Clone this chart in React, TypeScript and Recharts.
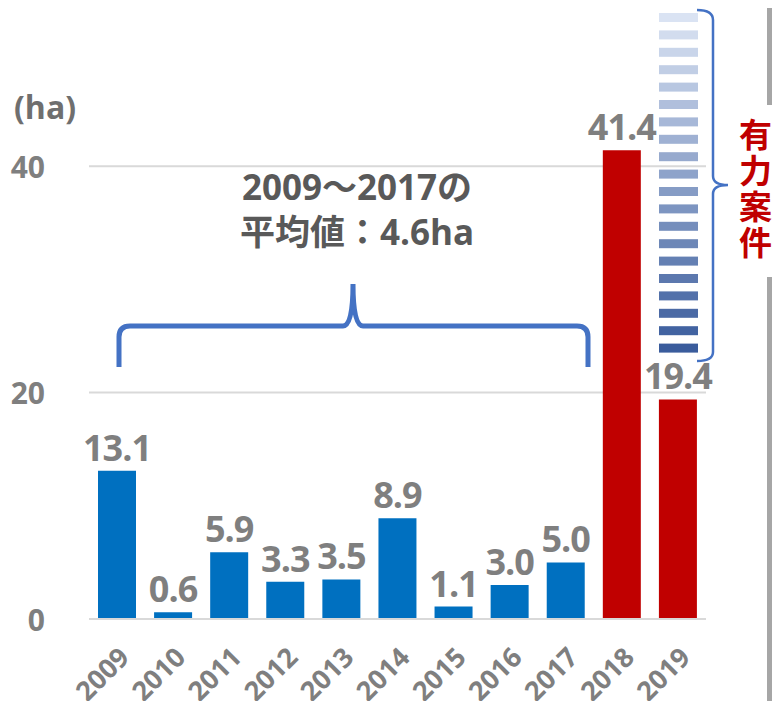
import { BarChart, Bar, XAxis, YAxis, CartesianGrid, Cell, LabelList } from 'recharts';

const years = ['2009', '2010', '2011', '2012', '2013', '2014', '2015', '2016', '2017', '2018', '2019'];
const areas = [13.1, 0.6, 5.9, 3.3, 3.5, 8.9, 1.1, 3.0, 5.0, 41.4, 19.4];
const yTicks = [0, 20, 40];
const highlightYears = ['2018', '2019'];

const avgLines = ['2009～2017の', '平均値：4.6ha'];
const sideLabel = '有力案件';

const data = years.map((year, i) => ({ year, area: areas[i] }));

const BLUE = '#0070C0';
const RED = '#C00000';
const GRAY = '#7f7f7f';
const FONT = '"Open Sans", "Noto Sans CJK JP", sans-serif';

const getBarColor = (year: string) => (highlightYears.includes(year) ? RED : BLUE);

const YTick = ({ y, payload }: any) => (
  <text x={45} y={y} textAnchor="end" dominantBaseline="central" fontSize={30} fontWeight={700} fill={GRAY} fontFamily={FONT}>
    {payload.value}
  </text>
);

const XTick = ({ x, y, payload }: any) => {
  const ax = x + 14;
  const ay = y + 32;
  return (
    <text x={ax} y={ay} textAnchor="end" fontSize={27} fontWeight={700} fill={GRAY} fontFamily={FONT} transform={`rotate(-45 ${ax} ${ay})`}>
      {payload.value}
    </text>
  );
};

const ValueLabel = ({ x, y, width, value }: any) => (
  <text x={x + width / 2} y={y - 10} textAnchor="middle" fontSize={36} fontWeight={700} fill={GRAY} fontFamily={FONT} letterSpacing={-1}>
    {Number(value).toFixed(1)}
  </text>
);

// stacked stripes fading from light to dark blue (the "promising projects" column)
const stripeColor = (i: number, n: number) => {
  const from = [0xda, 0xe3, 0xf3];
  const to = [0x3a, 0x5c, 0x9c];
  const t = i / (n - 1);
  const c = from.map((v, k) => Math.round(v + (to[k] - v) * t));
  return `rgb(${c[0]},${c[1]},${c[2]})`;
};

const Overlay = () => {
  const stripes = Array.from({ length: 20 }, (_, i) => i);
  return (
    <svg width={780} height={709} style={{ position: 'absolute', left: 0, top: 0, pointerEvents: 'none' }}>
      <text x={14} y={119} fontSize={32} fontWeight={700} fill="#6f6f6f" fontFamily={FONT}>(ha)</text>

      {/* average brace */}
      <path
        d="M119 367 L119 337 Q119 326 130 326 L343 326 Q353 326 353 284 Q353 326 363 326 L577 326 Q588 326 588 337 L588 367"
        fill="none"
        stroke="#4472C4"
        strokeWidth={5}
      />
      <text textAnchor="middle" fontSize={35} fontWeight={700} fill="#595959" fontFamily={FONT}>
        <tspan x={357} y={200}>{avgLines[0]}</tspan>
        <tspan x={357} y={245}>{avgLines[1]}</tspan>
      </text>

      {stripes.map((i) => (
        <rect key={i} x={659} y={13 + i * 17.4} width={39} height={9} fill={stripeColor(i, stripes.length)} />
      ))}
      <path
        d="M697 10 Q713 10 713 20 L713 176 Q713 185 728 185 Q713 185 713 194 L713 352 Q713 361 697 361"
        fill="none"
        stroke="#4472C4"
        strokeWidth={2.5}
      />

      <rect x={767} y={0} width={5} height={105} fill="#a6a6a6" />
      <rect x={767} y={277} width={5} height={432} fill="#a6a6a6" />
      <text
        x={754}
        y={118}
        fontSize={33}
        fontWeight={700}
        fill={RED}
        fontFamily={FONT}
        letterSpacing={3}
        style={{ writingMode: 'vertical-rl' }}
      >
        {sideLabel}
      </text>
    </svg>
  );
};

export default function App() {
  return (
    <div style={{ position: 'relative', width: 780, height: 709, margin: -8, background: '#fff' }}>
      <BarChart width={780} height={709} data={data} margin={{ top: 53, right: 74, bottom: 0, left: 29 }} barSize={38}>
        <CartesianGrid vertical={false} horizontalValues={yTicks} stroke="#d9d9d9" strokeWidth={2} />
        <XAxis dataKey="year" axisLine={{ stroke: '#d9d9d9', strokeWidth: 2 }} tickLine={false} interval={0} tick={<XTick />} height={90} />
        <YAxis domain={[0, 50]} ticks={yTicks} axisLine={false} tickLine={false} tick={<YTick />} width={60} />
        <Bar dataKey="area" isAnimationActive={false}>
          {data.map((d) => (
            <Cell key={d.year} fill={getBarColor(d.year)} />
          ))}
          <LabelList dataKey="area" content={<ValueLabel />} />
        </Bar>
      </BarChart>
      <Overlay />
    </div>
  );
}
